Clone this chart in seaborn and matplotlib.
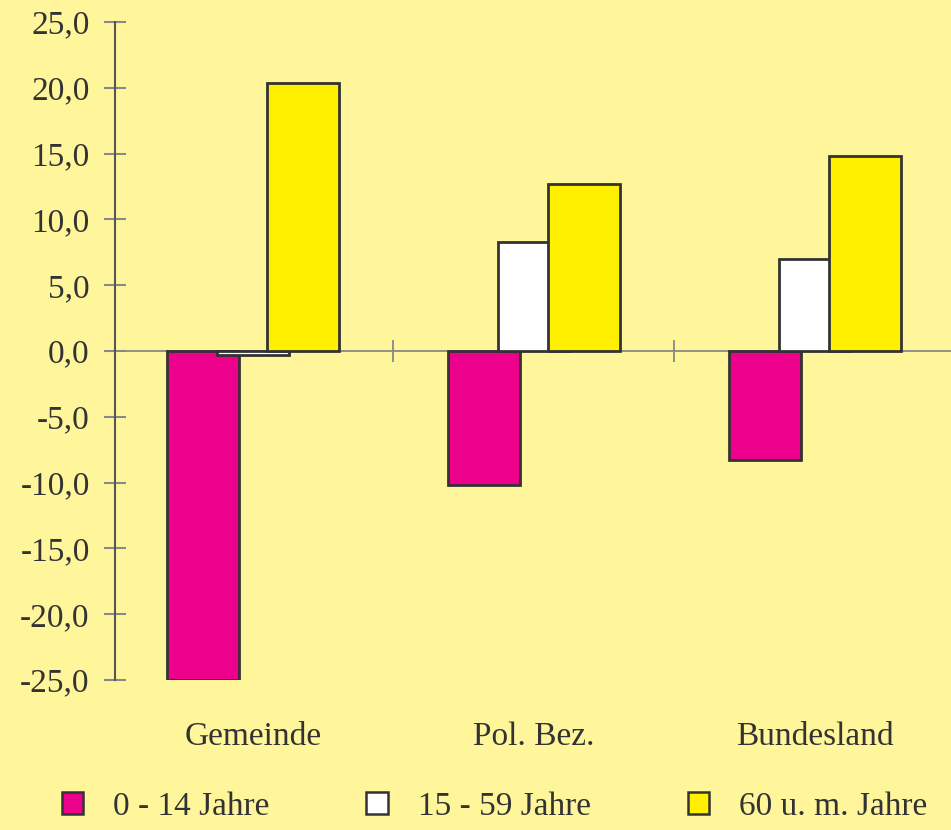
import matplotlib
matplotlib.use('Agg')
import matplotlib.pyplot as plt
import seaborn as sns
import pandas as pd
from matplotlib.ticker import FuncFormatter, MultipleLocator
from matplotlib.patches import Patch

# Bevoelkerungsveraenderung nach Altersgruppen (%)
regions = ['Gemeinde', 'Pol. Bez.', 'Bundesland']
groups = ['0 - 14 Jahre', '15 - 59 Jahre', '60 u. m. Jahre']
young = [-25.0, -10.2, -8.3]
middle = [-0.3, 8.3, 7.0]
old = [20.4, 12.7, 14.8]
colors = ['#EC008C', '#FFFFFF', '#FFF000']

bg = '#FFF69C'
ink = '#333333'

sns.set_style('white')
plt.rcParams['font.family'] = ['Liberation Serif', 'DejaVu Serif']

df = pd.DataFrame({
    'Region': regions * 3,
    'Gruppe': [g for g in groups for _ in regions],
    'Wert': young + middle + old,
})

fig = plt.figure(figsize=(9.51, 8.30), dpi=100, facecolor=bg)
ax = fig.add_axes([0.1209, 0.1807, 0.8791, 0.7928])
ax.set_facecolor(bg)

sns.barplot(data=df, x='Region', y='Wert', hue='Gruppe', hue_order=groups,
            palette=colors, saturation=1, edgecolor=ink, linewidth=2.0,
            legend=False, ax=ax, zorder=2)

# overlapping bars like the original
w, step = 0.256, 0.178
for i, cont in enumerate(ax.containers):
    for j, bar in enumerate(cont):
        c = j + (i - 1) * step
        bar.set_x(c - w / 2)
        bar.set_width(w)

ax.set_xlim(-0.49, 2.484)
ax.set_ylim(-25, 25)
ax.axhline(0, color='#888888', lw=1.3, zorder=1)
ax.vlines([0.5, 1.5], -0.85, 0.85, color='#888888', lw=1.3, zorder=1)

ax.yaxis.set_major_locator(MultipleLocator(5))
ax.yaxis.set_major_formatter(FuncFormatter(lambda v, p: f'{v:.1f}'.replace('.', ',')))
ax.tick_params(axis='y', direction='inout', length=16.5, width=1.5, color='#888888',
               labelsize=24, labelcolor=ink, pad=10, left=True)
ax.tick_params(axis='x', length=0, labelsize=24, labelcolor=ink, pad=30)

for s in ['top', 'right', 'bottom']:
    ax.spines[s].set_visible(False)
ax.spines['left'].set_color('#555555')
ax.spines['left'].set_linewidth(1.5)
ax.set_xlabel('')
ax.set_ylabel('')

handles = [Patch(facecolor=c, edgecolor=ink, linewidth=1.8) for c in colors]
fig.legend(handles, groups, loc='center', bbox_to_anchor=(0.52, 0.028), ncol=3,
           frameon=False, fontsize=24, handlelength=0.65, handleheight=0.65,
           handletextpad=0.9, columnspacing=2.9, labelcolor=ink)

fig.savefig('out.png', dpi=100, facecolor=bg)
